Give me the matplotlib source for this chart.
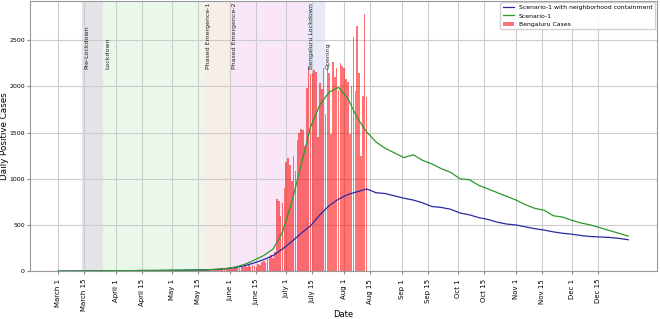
import numpy as np
import pandas as pd
import matplotlib
matplotlib.use('Agg')
import matplotlib.pyplot as plt

# simulated scenarios, one value every 5 days from March 1 to Dec 31
scenario_start = '2020-03-01'
scenario1 = [0, 1, 2, 3, 3, 4, 5, 5, 6, 7, 7, 8, 9, 10, 11, 13, 15, 20,
             28, 45, 75, 120, 170, 240, 420, 750, 1150, 1560, 1800, 1940, 1990, 1870,
             1660, 1510, 1400, 1330, 1280, 1230, 1260, 1200, 1160, 1110, 1070, 1000,
             990, 930, 890, 850, 810, 770, 720, 680, 660, 600, 585, 550, 520, 500,
             470, 440, 410, 380]
scenario1_nc = [0, 1, 2, 3, 3, 4, 5, 5, 6, 7, 7, 8, 9, 10, 11, 13, 15, 19,
                27, 40, 60, 90, 125, 170, 240, 320, 410, 490, 610, 710, 780, 830,
                860, 890, 850, 840, 815, 790, 770, 740, 700, 690, 670, 630,
                610, 580, 560, 530, 510, 500, 480, 460, 445, 425, 410, 400, 385, 375,
                370, 365, 355, 340]

# observed daily cases, Bengaluru, from March 9
cases_start = '2020-03-09'
cases = [0, 0, 1, 2, 1, 3, 2, 4, 3, 5, 2, 6, 4, 3, 5, 8, 6, 4, 7, 5, 9, 6, 8,
         5, 7, 4, 6, 8, 5, 3, 6, 9, 4, 7, 5, 8, 6, 3, 5, 7, 4, 6, 9, 5, 8, 4, 6, 7, 3, 5, 8, 6, 4,
         6, 9, 5, 7, 12, 8, 10, 6, 9, 14, 11, 8, 13, 9, 15, 12, 18, 10, 14, 20, 16, 22, 19, 25,
         17, 28, 21, 30, 24, 33, 27,
         35, 28, 42, 31, 46, 38, 52, 40, 58, 45, 62, 50, 70, 55, 48, 80, 66, 95, 110, 85,
         130, 150, 180, 140, 210, 780, 760, 600, 740, 900,
         1180, 1230, 1150, 980, 1250, 1080, 1420, 1500, 1540, 1530, 1350, 1980, 2200, 2130,
         2150, 2180, 2160, 1450, 2040, 1970, 2200, 1700, 2230, 2150, 1480, 2260, 2100, 2200,
         1960, 2250, 2220,
         2200, 2080, 2050, 1480, 2000, 2540, 1950, 2650, 2150, 1250, 1900, 2790, 1890]

phase_names = ['Pre-Lockdown', 'Lockdown', 'Phased Emergence-1', 'Phased Emergence-2',
               'Bengaluru Lockdown', 'Opening']
phase_start = ['2020-03-14', '2020-03-25', '2020-05-18', '2020-06-01', '2020-07-12', '2020-07-21']
phase_end = ['2020-03-25', '2020-05-18', '2020-06-01', '2020-07-12', '2020-07-21', None]
phase_colors = ['#e3e3e8', '#eaf8ea', '#f8eee8', '#f9e7f9', '#e9e9f9', None]

tick_dates = ['2020-03-01', '2020-03-15', '2020-04-01', '2020-04-15', '2020-05-01', '2020-05-15',
              '2020-06-01', '2020-06-15', '2020-07-01', '2020-07-15', '2020-08-01', '2020-08-15',
              '2020-09-01', '2020-09-15', '2020-10-01', '2020-10-15', '2020-11-01', '2020-11-15',
              '2020-12-01', '2020-12-15']
tick_labels = ['March 1', 'March 15', 'April 1', 'April 15', 'May 1', 'May 15', 'June 1',
               'June 15', 'July 1', 'July 15', 'Aug 1', 'Aug 15', 'Sep 1', 'Sep 15', 'Oct 1',
               'Oct 15', 'Nov 1', 'Nov 15', 'Dec 1', 'Dec 15']

sc_dates = pd.date_range(scenario_start, periods=len(scenario1), freq='5D')
case_dates = pd.date_range(cases_start, periods=len(cases), freq='D')

fig = plt.figure(figsize=(6.6, 3.19), dpi=100)
ax = fig.add_axes((0.045, 0.15, 0.95, 0.848))

for name, s, e, c in zip(phase_names, phase_start, phase_end, phase_colors):
    if e is not None:
        ax.axvspan(pd.Timestamp(s), pd.Timestamp(e), color=c, zorder=0)
    ax.text(pd.Timestamp(s) + pd.Timedelta(days=1), 2190, name, rotation=90,
            ha='left', va='bottom', fontsize=4.5, color='#222222')

ax.plot(sc_dates, scenario1_nc, color='#2a2aa0', lw=0.9,
        label='Scenario-1 with neighborhood containment')
ax.plot(sc_dates, scenario1, color='#2a9a2a', lw=0.9, label='Scenario-1')
ax.bar(case_dates, cases, width=0.85, color='red', alpha=0.55, label='Bengaluru Cases')

ax.set_xticks(pd.to_datetime(tick_dates))
ax.set_xticklabels(tick_labels, rotation=90, fontsize=5)
ax.tick_params(axis='y', labelsize=4.5, pad=1.5)
ax.tick_params(length=2, color='#888888')
ax.grid(True, color='#cccccc', lw=0.8)
ax.set_axisbelow(True)
for sp in ax.spines.values():
    sp.set_color('#999999')

ax.set_xlabel('Date', fontsize=6, va='center')
ax.xaxis.set_label_coords(0.5, -0.16)
ax.set_ylabel('Daily Positive Cases', fontsize=6.3, va='center')
ax.yaxis.set_label_coords(-0.04, 0.5)
ax.legend(loc='upper right', fontsize=4.4, framealpha=0.9, borderaxespad=0.3,
          handlelength=1.8)

fig.savefig('out.png', dpi=100)
